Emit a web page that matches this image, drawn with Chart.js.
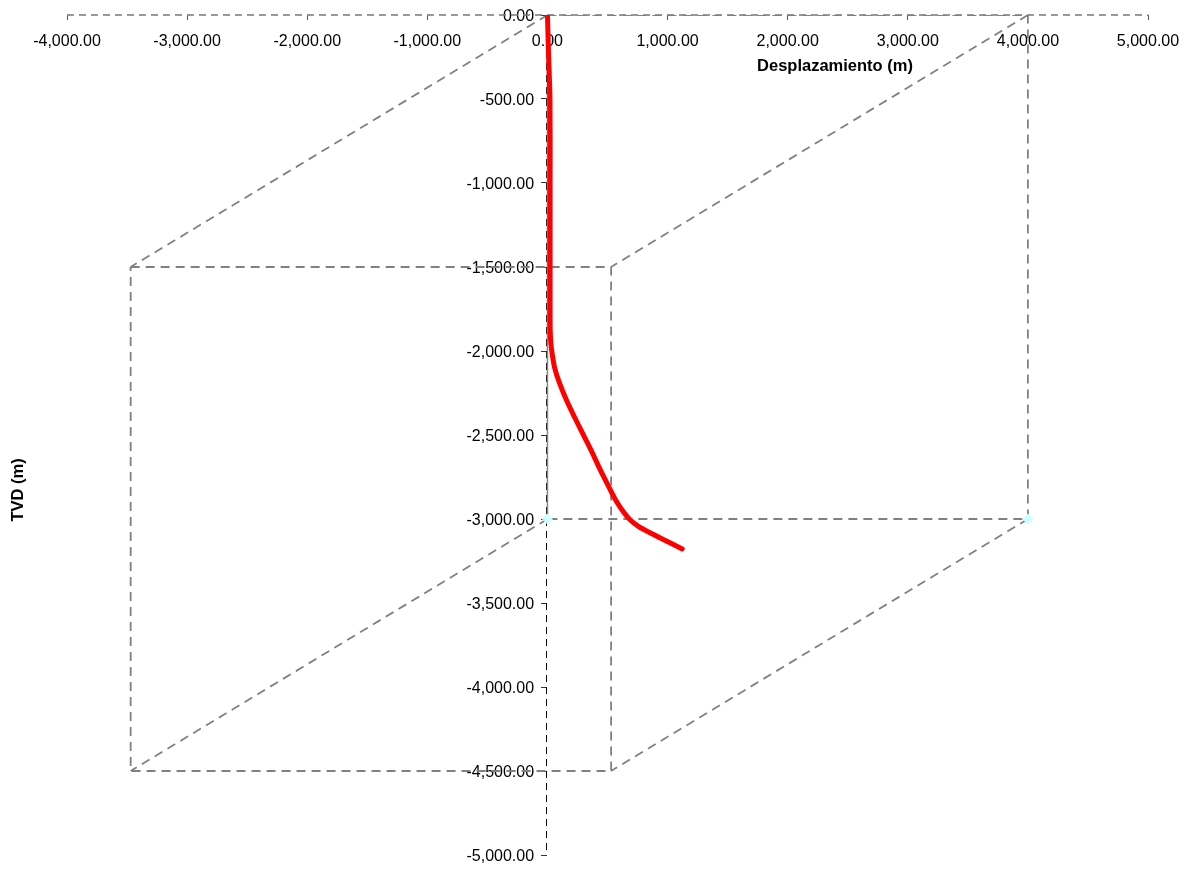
<!DOCTYPE html>
<html lang="es">
  <head>
    <meta charset="UTF-8" />
    <title>Trayectoria</title>
    <script src="https://cdn.jsdelivr.net/npm/chart.js"></script>
    <style>
      html, body { margin: 0; padding: 0; background: #fff; }
      #box { width: 1190px; height: 869px; }
    </style>
  </head>
  <body>
    <div id="box">
      <canvas id="myChart" width="1190" height="869"></canvas>
    </div>
    <script>
      // trayectoria del pozo (desplazamiento vs TVD)
      const wellDisp = [0, 10, 21, 22, 22, 22, 23, 28, 40, 60, 100, 158, 225, 291, 362, 440, 505, 570, 635, 690, 760, 850, 960, 1122];
      const wellTvd = [0, -250, -500, -1000, -1500, -1800, -1880, -1950, -2020, -2100, -2190, -2292, -2393, -2488, -2589, -2708, -2800, -2890, -2960, -3006, -3045, -3080, -3120, -3178];

      // caja (aristas discontinuas), null separa tramos
      const boxDisp = [0, 4000, 4000, 0, null, -3470, 530, 530, -3470, -3470, null, 0, -3470, null, 4000, 530, null, 4000, 530, null, 0, -3470];
      const boxTvd = [0, 0, -3000, -3000, null, -1500, -1500, -4500, -4500, -1500, null, 0, -1500, null, 0, -1500, null, -3000, -4500, null, -3000, -4500];

      // arista frontal continua
      const edgeDisp = [0, 0];
      const edgeTvd = [0, -3000];

      // marcadores
      const markDisp = [0, 4000];
      const markTvd = [-3000, -3000];

      const xMin = -4000, xMax = 5000, xStep = 1000;
      const yMin = -5000, yMax = 0, yStep = 500;

      const fmt = function (v) {
        return Number(v).toLocaleString("en-US", { minimumFractionDigits: 2, maximumFractionDigits: 2 });
      };

      const toPoints = function (xs, ys) {
        return xs.map(function (x, i) { return { x: x, y: ys[i] }; });
      };

      // sin relleno extra de etiquetas: el area la fija layout.padding
      const noPad = function (scale) {
        scale.paddingLeft = 0;
        scale.paddingRight = 0;
        scale.paddingTop = 0;
        scale.paddingBottom = 0;
      };

      // partir la caja en segmentos
      const boxSets = [];
      let seg = [];
      boxDisp.forEach(function (x, i) {
        if (x === null) {
          boxSets.push(seg);
          seg = [];
        } else {
          seg.push({ x: x, y: boxTvd[i] });
        }
      });
      boxSets.push(seg);

      const datasets = [
        {
          label: "Pozo",
          data: toPoints(wellDisp, wellTvd),
          showLine: true,
          borderColor: "#ff0000",
          borderWidth: 5,
          pointRadius: 0,
          tension: 0.3,
          borderCapStyle: "round",
          borderJoinStyle: "round",
          order: 0,
        },
        {
          label: "Marcas",
          data: toPoints(markDisp, markTvd),
          showLine: false,
          pointStyle: "rectRot",
          pointRadius: 5,
          backgroundColor: "#ccffff",
          borderColor: "#ccffff",
          order: 1,
        },
        {
          label: "Arista",
          data: toPoints(edgeDisp, edgeTvd),
          showLine: true,
          borderColor: "#888888",
          borderWidth: 1.5,
          pointRadius: 0,
          order: 2,
        },
      ];
      boxSets.forEach(function (s) {
        datasets.push({
          data: s,
          showLine: true,
          borderColor: "#808080",
          borderWidth: 1.8,
          borderDash: [9, 6],
          pointRadius: 0,
          order: 3,
        });
      });

      // ejes discontinuos (el borde de Chart.js no admite guiones)
      const dashedAxes = {
        id: "dashedAxes",
        beforeDatasetsDraw: function (chart) {
          const c = chart.ctx;
          const a = chart.chartArea;
          const x0 = chart.scales.x.getPixelForValue(0);
          const y0 = chart.scales.y.getPixelForValue(0);
          c.save();
          c.setLineDash([7, 5]);
          c.strokeStyle = "#777";
          c.lineWidth = 1.5;
          c.beginPath();
          c.moveTo(a.left, y0);
          c.lineTo(a.right, y0);
          c.stroke();
          c.strokeStyle = "#000";
          c.lineWidth = 1;
          c.beginPath();
          c.moveTo(Math.round(x0) - 0.5, a.top);
          c.lineTo(Math.round(x0) - 0.5, a.bottom);
          c.stroke();
          c.restore();
        },
      };

      const titles = {
        id: "titles",
        afterDraw: function (chart) {
          const c = chart.ctx;
          c.save();
          c.fillStyle = "#000";
          c.font = "bold 16.5px 'Liberation Sans', Arial, sans-serif";
          c.textAlign = "center";
          c.textBaseline = "middle";
          c.fillText("Desplazamiento (m)", 835, 66);
          c.translate(18, 490);
          c.rotate(-Math.PI / 2);
          c.fillText("TVD (m)", 0, 0);
          c.restore();
        },
      };

      const ctx = document.getElementById("myChart");
      new Chart(ctx, {
        type: "scatter",
        data: { datasets: datasets },
        plugins: [dashedAxes, titles],
        options: {
          responsive: false,
          animation: false,
          events: [],
          layout: { padding: { left: 67, right: 42, top: 15, bottom: 14 } },
          plugins: { legend: { display: false }, tooltip: { enabled: false } },
          scales: {
            x: {
              type: "linear",
              position: { y: 0 },
              min: xMin,
              max: xMax,
              afterFit: noPad,
              grid: { drawOnChartArea: false, drawTicks: true, tickLength: 5, color: "#555" },
              border: { display: false },
              ticks: {
                stepSize: xStep,
                autoSkip: false,
                maxRotation: 0,
                padding: 12,
                color: "#000",
                font: { family: "'Liberation Sans', Arial, sans-serif", size: 16 },
                callback: fmt,
              },
            },
            y: {
              type: "linear",
              position: { x: 0 },
              min: yMin,
              max: yMax,
              afterFit: noPad,
              grid: { drawOnChartArea: false, drawTicks: true, tickLength: 6, color: "#333" },
              border: { display: false },
              ticks: {
                stepSize: yStep,
                autoSkip: false,
                labelOffset: 2,
                color: "#000",
                font: { family: "'Liberation Sans', Arial, sans-serif", size: 16 },
                // etiquetas separadas del eje
                callback: function (v) { return fmt(v) + "   "; },
              },
            },
          },
        },
      });
    </script>
  </body>
</html>
